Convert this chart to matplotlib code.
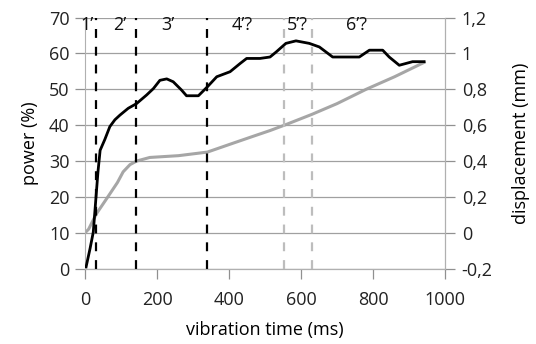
import numpy as np
import matplotlib.pyplot as plt

plt.rcParams['font.family'] = ['Open Sans', 'DejaVu Sans']

# power curve (left axis, %)
t_power = [3, 14, 23, 36, 42, 55, 69, 83, 97, 120, 143, 171, 190, 208, 227, 245, 268, 282,
           315, 340, 366, 403, 431, 449, 486, 514, 531, 558, 586, 623, 651, 688, 762, 790,
           827, 845, 873, 910, 942]
power = [0.5, 5.6, 10.2, 27, 33, 36, 39.6, 41.5, 42.8, 44.7, 46, 48.4, 50.2, 52.5, 52.9, 52.1,
         49.8, 48.2, 48.2, 50.7, 53.5, 54.9, 57.2, 58.6, 58.6, 59, 60.4, 62.8, 63.5, 62.8,
         61.8, 59, 59, 60.9, 60.9, 59, 56.7, 57.7, 57.7]

# displacement curve (right axis, mm)
t_disp = [0, 10, 20, 32, 60, 90, 106, 125, 143.5, 180, 260, 340, 412, 470, 514, 554, 630,
          700, 781, 860, 942]
disp = [0.0, 0.02, 0.06, 0.107, 0.19, 0.28, 0.34, 0.38, 0.40, 0.42, 0.43, 0.45, 0.50,
        0.54, 0.57, 0.60, 0.66, 0.72, 0.80, 0.87, 0.95]

phase_black = [30, 143, 340]
phase_gray = [554, 630]
phase_labels = ['1\u2019', '2\u2019', '3\u2019', '4\u2019?', '5\u2019?', '6\u2019?']
label_x = [7, 97, 229, 437, 591, 753]

fig = plt.figure(figsize=(5.36, 3.44), dpi=100)
ax = fig.add_axes([0.1586, 0.219, 0.6716, 0.730])
ax2 = ax.twinx()

grid_c = '#a0a0a0'
ax.set_xlim(0, 1000)
ax.set_ylim(0, 70)
ax.set_yticks(range(0, 71, 10))
ax.set_xticks(range(0, 1001, 200))
ax.grid(axis='y', color=grid_c, lw=0.9)
ax.set_axisbelow(True)

ax2.set_ylim(-0.2, 1.2)
ax2.set_yticks(np.arange(-0.2, 1.21, 0.2))
ax2.set_yticklabels(['-0,2', '0', '0,2', '0,4', '0,6', '0,8', '1', '1,2'])

for a in (ax, ax2):
    a.spines['top'].set_visible(False)
    for s in ['left', 'right', 'bottom']:
        a.spines[s].set_color('#b0b0b0')
    a.tick_params(colors='#909090', labelcolor='#222222', labelsize=13, length=7, width=0.9)
ax.tick_params(axis='x', pad=9)
ax.tick_params(axis='y', pad=4)
ax2.tick_params(axis='y', pad=5)
ax2.spines['left'].set_visible(False)

for x in phase_black:
    ax.axvline(x, color='black', ls=(0, (4, 4)), lw=1.6, zorder=1)
for x in phase_gray:
    ax.axvline(x, color='#bdbdbd', ls=(0, (4, 4)), lw=1.6, zorder=1)

ax2.plot(t_disp, disp, color='#a6a6a6', lw=2.2)
ax.plot(t_power, power, color='black', lw=2.0, zorder=3)
ax.set_zorder(ax2.get_zorder() + 1)
ax.patch.set_visible(False)

for lab, x in zip(phase_labels, label_x):
    ax.text(x, 67.8, lab, ha='center', va='center', fontsize=13, color='#111111')

ax.set_ylabel('power (%)', fontsize=13, labelpad=7)
ax2.set_ylabel('displacement (mm)', fontsize=13, labelpad=14)
ax.set_xlabel('vibration time (ms)', fontsize=13, labelpad=9)

fig.savefig('out.png')
